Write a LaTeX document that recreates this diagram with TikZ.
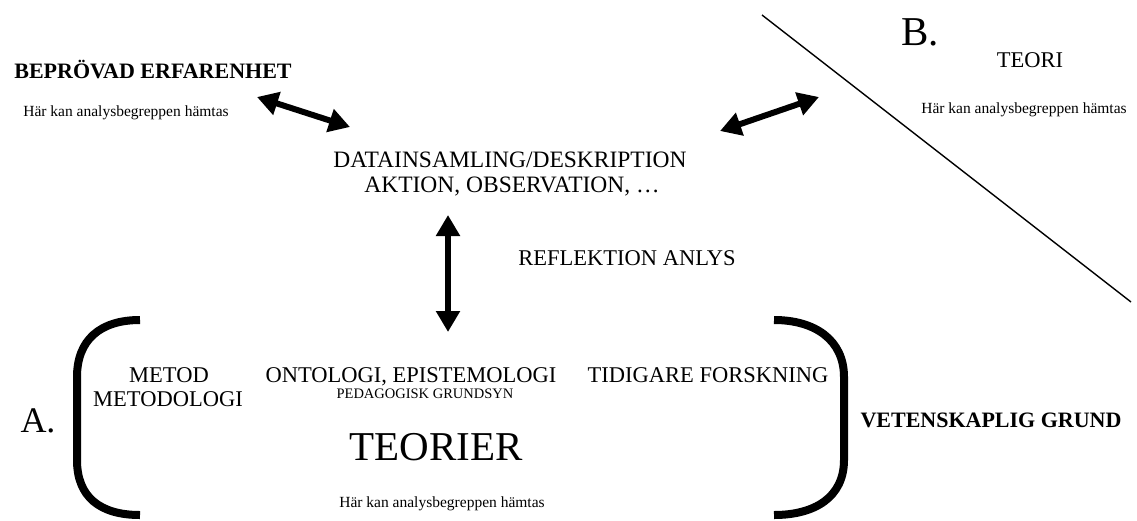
\documentclass[tikz,border=0pt]{standalone}
\usepackage{fontspec}
\setmainfont{Liberation Serif}
\usetikzlibrary{arrows.meta}
\tikzset{
  txt/.style={inner sep=0pt, anchor=base, align=center},
  big/.style={txt, font=\fontsize{22.5}{26}\selectfont},
  small/.style={txt, font=\fontsize{15.5}{18}\selectfont},
  boldlab/.style={txt, font=\fontsize{22}{26}\selectfont\bfseries},
  huge/.style={txt, font=\fontsize{41}{46}\selectfont},
  dbl/.style={line width=6pt, {Triangle[length=21pt,width=23pt]}-{Triangle[length=21pt,width=23pt]}},
  brk/.style={line width=8pt, line cap=butt},
}
\begin{document}
\begin{tikzpicture}[x=1pt,y=-1pt]
\useasboundingbox (0,0) rectangle (1137,520);
% texts
\node[boldlab] (bep) at (153,78) {BEPRÖVAD ERFARENHET};
\node[small] (h1) at (126,116) {Här kan analysbegreppen hämtas};
\node[big, font=\fontsize{23.5}{27}\selectfont] (data) at (510,167) {DATAINSAMLING/DESKRIPTION};
\node[big, font=\fontsize{23.5}{27}\selectfont] (akt) at (512,192) {AKTION, OBSERVATION, …};
\node[huge] (b) at (920,45) {B.};
\node[big] (teori) at (1030,67) {TEORI};
\node[small] (h2) at (1024,113) {Här kan analysbegreppen hämtas};
\node[big] (refl) at (627,265) {REFLEKTION ANLYS};
\node[big] (metod) at (169,382) {METOD};
\node[big] (metodol) at (168,406) {METODOLOGI};
\node[big] (onto) at (411,382) {ONTOLOGI, EPISTEMOLOGI};
\node[txt, font=\fontsize{14.5}{17}\selectfont] (ped) at (425,398) {PEDAGOGISK GRUNDSYN};
\node[big] (tid) at (708,382) {TIDIGARE FORSKNING};
\node[huge] (teorier) at (436,460) {TEORIER};
\node[txt, font=\fontsize{36}{40}\selectfont] (a) at (38,432) {A.};
\node[small] (h3) at (442,507) {Här kan analysbegreppen hämtas};
\node[boldlab] (vet) at (991,427) {VETENSKAPLIG GRUND};
% arrow endpoints
\coordinate (a1s) at (257,97);
\coordinate (a1e) at (350,127);
\coordinate (a2s) at (720,131);
\coordinate (a2e) at (819,97);
\coordinate (a3s) at (448,215);
\coordinate (a3e) at (448,332);
\draw[dbl] (a1s) -- (a1e);
\draw[dbl] (a2s) -- (a2e);
\draw[dbl] (a3s) -- (a3e);
% diagonal
\coordinate (d1) at (762,15);
\coordinate (d2) at (1131,302);
\draw[line width=1.4pt] (d1) -- (d2);
% brackets
\coordinate (lb1) at (140,320);
\coordinate (lb2) at (140,515);
\draw[brk] (lb1) .. controls (100,320) and (77,340) .. (77,377) -- (77,460) .. controls (77,497) and (100,515) .. (lb2);
\coordinate (rb1) at (774,320);
\coordinate (rb2) at (774,515);
\draw[brk] (rb1) .. controls (815,320) and (844,340) .. (844,377) -- (844,460) .. controls (844,497) and (815,515) .. (rb2);
\end{tikzpicture}
\end{document}
